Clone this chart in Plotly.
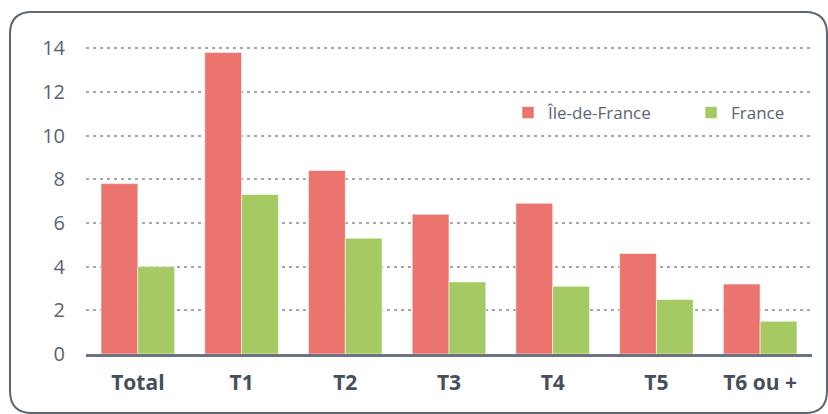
import plotly.graph_objects as go

categories = ["Total", "T1", "T2", "T3", "T4", "T5", "T6 ou +"]
idf_values = [7.8, 13.8, 8.4, 6.4, 6.9, 4.6, 3.2]
france_values = [4.0, 7.3, 5.3, 3.3, 3.1, 2.5, 1.5]
y_ticks = [0, 2, 4, 6, 8, 10, 12, 14]

W, H = 828, 414
PLOT_L, PLOT_R, PLOT_T, PLOT_B = 86, 812, 35, 354  # window px
ML, MT = PLOT_L, PLOT_T
MR, MB = W - PLOT_R, H - PLOT_B
PW, PH = PLOT_R - PLOT_L, PLOT_B - PLOT_T


def px_x(px):
    return (px - PLOT_L) / PW


def px_y(py):
    return (PLOT_B - py) / PH


fig = go.Figure()
fig.add_trace(go.Bar(
    x=categories, y=idf_values, name="Île-de-France", legend="legend",
    marker=dict(color="#EB746F", line=dict(color="rgba(255,255,255,0.55)", width=1)),
))
fig.add_trace(go.Bar(
    x=categories, y=france_values, name="France", legend="legend2",
    marker=dict(color="#A6CA63", line=dict(color="rgba(255,255,255,0.55)", width=1)),
))

# rounded frame
x0, x1, y0, y1, r = 10, 827, 12, 413, 22
pts = [
    ("M", [(x0 + r, y0)]),
    ("L", [(x1 - r, y0)]),
    ("Q", [(x1, y0), (x1, y0 + r)]),
    ("L", [(x1, y1 - r)]),
    ("Q", [(x1, y1), (x1 - r, y1)]),
    ("L", [(x0 + r, y1)]),
    ("Q", [(x0, y1), (x0, y1 - r)]),
    ("L", [(x0, y0 + r)]),
    ("Q", [(x0, y0), (x0 + r, y0)]),
]
path = ""
for cmd, ps in pts:
    path += cmd + " " + " ".join(f"{px_x(a):.5f},{px_y(b):.5f}" for a, b in ps) + " "
path += "Z"
fig.add_shape(type="path", xref="paper", yref="paper", path=path,
              line=dict(color="#5E6670", width=2), fillcolor="rgba(0,0,0,0)", layer="below")

legend_style = dict(
    orientation="h", xanchor="left", yanchor="middle",
    font=dict(family="Open Sans", size=17, color="#5B6472"),
    bgcolor="rgba(0,0,0,0)",
)

fig.update_layout(
    width=W, height=H,
    margin=dict(l=ML, r=MR, t=MT, b=MB, pad=0, autoexpand=False),
    paper_bgcolor="white", plot_bgcolor="white",
    barmode="group", bargap=0.29, bargroupgap=0,
    showlegend=True,
    legend=dict(x=px_x(508), y=px_y(113), **legend_style),
    legend2=dict(x=px_x(691), y=px_y(113), **legend_style),
    xaxis=dict(
        showgrid=False, showline=True, linecolor="#6B7380", linewidth=2.5,
        tickfont=dict(family="Open Sans", size=21, color="#474F5C", weight="bold"),
        ticks="", ticklabelstandoff=8,
    ),
    yaxis=dict(
        range=[0, 14.6], tickvals=y_ticks, showgrid=True,
        gridcolor="#A3A8B0", gridwidth=2, griddash="3px,4px",
        zeroline=False, showline=False,
        tickfont=dict(family="Open Sans", size=20, color="#5B6472"),
        ticks="", ticklabelstandoff=20,
    ),
)

fig.write_html(
    "out.html",
    config={"displayModeBar": False},
    post_script="document.body.style.margin='0';document.body.style.overflow='hidden';",
)
